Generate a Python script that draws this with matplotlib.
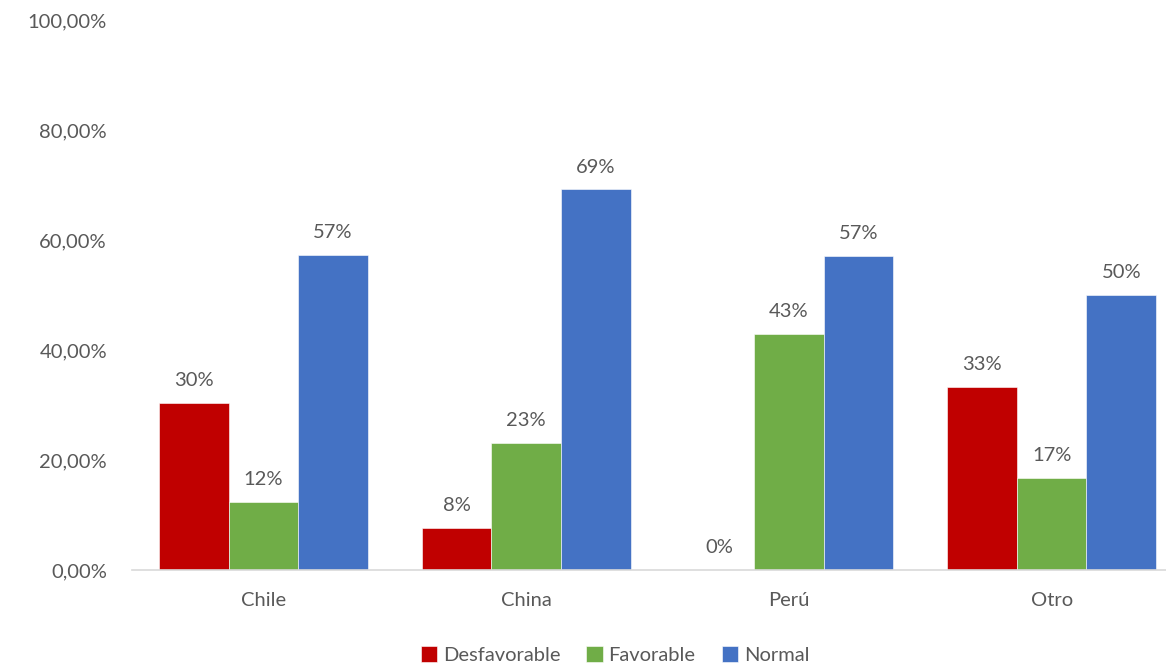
import numpy as np
import matplotlib.pyplot as plt
from matplotlib.ticker import FuncFormatter

# data (percent)
categories = ["Chile", "China", "Perú", "Otro"]
series_names = ["Desfavorable", "Favorable", "Normal"]
desfavorable = [30.4, 7.7, 0.0, 33.3]
favorable = [12.4, 23.1, 42.9, 16.7]
normal = [57.3, 69.2, 57.1, 50.0]

colors = ["#C00000", "#70AD47", "#4472C4"]
text_color = "#595959"
fs = 14.5

plt.rcParams["font.family"] = ["Lato", "DejaVu Sans"]

W, H = 1166, 666
fig = plt.figure(figsize=(W / 100, H / 100), dpi=100)
# plot area: x from 132px, y from 20px (100%) to 570px (0%); right side runs off the image
left, right, top, bottom = 132, 1183, 20, 570
ax = fig.add_axes([left / W, 1 - bottom / H, (right - left) / W, (bottom - top) / H])

x = np.arange(len(categories))
width = 0.265
all_series = [desfavorable, favorable, normal]
for i, (vals, name, col) in enumerate(zip(all_series, series_names, colors)):
    bars = ax.bar(x + (i - 1) * width, vals, width, color=col, label=name,
                  edgecolor="white", linewidth=0.4, zorder=2)
    for b, v in zip(bars, vals):
        ax.annotate(f"{v:.0f}%", (b.get_x() + b.get_width() / 2, v),
                    xytext=(0, 10), textcoords="offset points",
                    ha="center", va="bottom", fontsize=fs, color=text_color)

ax.set_xlim(-0.5, len(categories) - 0.5)
ax.set_ylim(0, 100)
ax.set_yticks(np.arange(0, 101, 20))
ax.yaxis.set_major_formatter(FuncFormatter(lambda v, _: f"{v:.2f}%".replace(".", ",")))
ax.set_xticks(x)
ax.set_xticklabels(categories)

for s in ["top", "right", "left"]:
    ax.spines[s].set_visible(False)
ax.spines["bottom"].set_color("#D9D9D9")
ax.spines["bottom"].set_linewidth(1.2)
ax.tick_params(axis="both", length=0, labelsize=fs, colors=text_color)
ax.tick_params(axis="y", pad=18)
ax.tick_params(axis="x", pad=16)

leg = fig.legend(loc="center", bbox_to_anchor=(615 / W, 1 - 655 / H), ncol=3,
                 frameon=False, fontsize=fs, handlelength=0.8, handleheight=0.8,
                 handletextpad=0.3, columnspacing=1.3)
for t in leg.get_texts():
    t.set_color(text_color)

fig.savefig("out.png", dpi=100)
